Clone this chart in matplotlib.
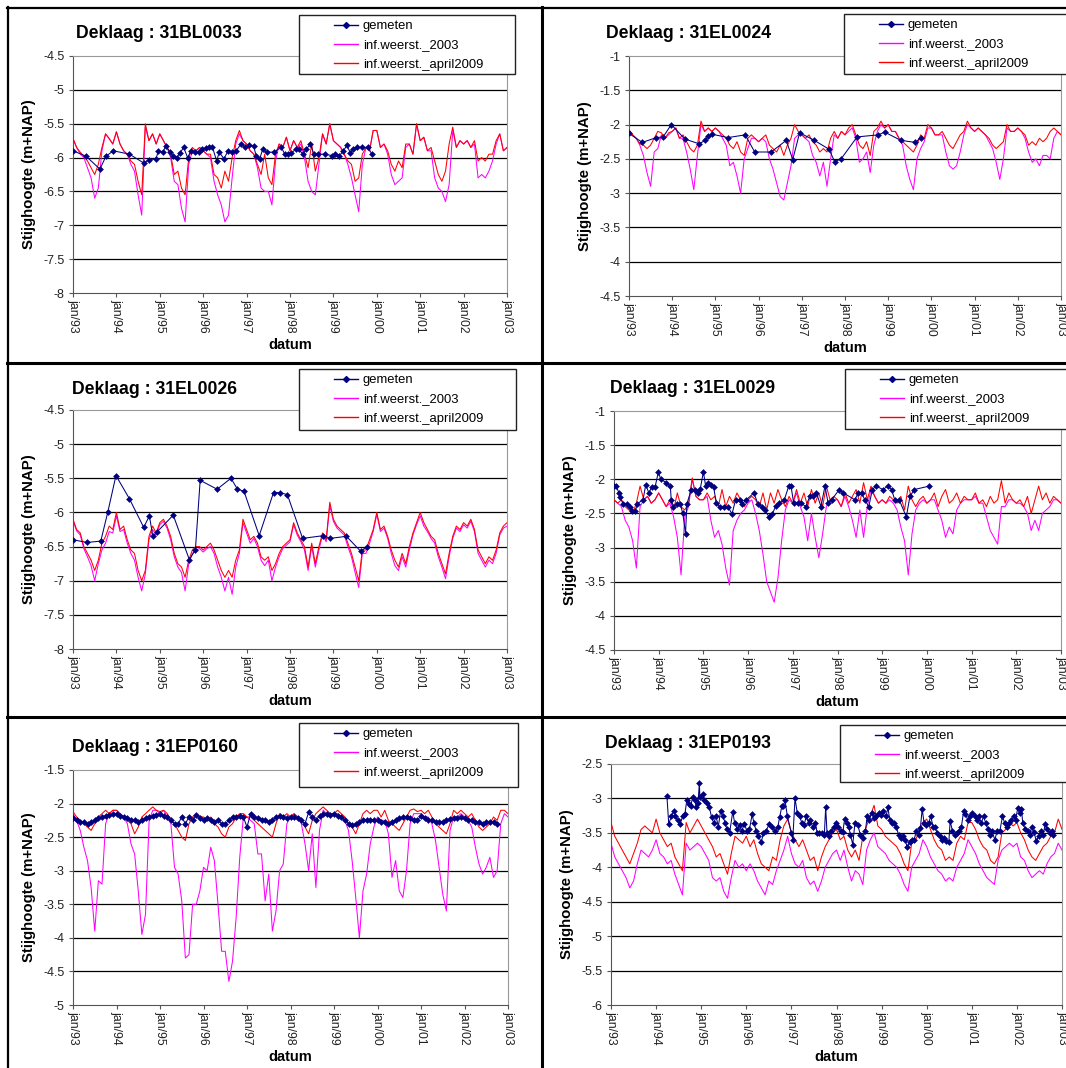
import numpy as np
import matplotlib
matplotlib.use('Agg')
import matplotlib.pyplot as plt
from matplotlib.lines import Line2D
from matplotlib.patches import Rectangle

plt.rcParams['font.family'] = ['Liberation Sans', 'DejaVu Sans']

# model output, one value per month from jan/93 to jan/03
maand = 1993 + np.arange(121) / 12.0
# measured heads of 31EP0160, one value per month from jan/93
maand_gem = 1993 + np.arange(118) / 12.0

jaren = list(range(1993, 2004))
jaar_labels = ['jan/%02d' % (j % 100) for j in jaren]
labels = ['gemeten', 'inf.weerst._2003', 'inf.weerst._april2009']

# ---- 31BL0033 ----
bl0033_2003 = [-5.72, -5.85, -5.95, -6.0, -6.15, -6.3, -6.6, -6.45, -5.9, -5.65, -5.72, -5.8,
               -5.62, -5.8, -5.9, -5.95, -6.1, -6.2, -6.55, -6.85, -5.55, -5.75, -5.65, -5.8,
               -5.65, -5.75, -5.85, -6.0, -6.35, -6.4, -6.75, -6.95, -6.1, -5.9, -5.9, -5.85,
               -5.9, -5.95, -6.0, -6.35, -6.55, -6.7, -6.95, -6.85, -6.3, -5.8, -5.65, -5.75,
               -5.8, -5.9, -5.95, -6.15, -6.45, -6.5, -6.5, -6.7, -6.05, -5.8, -5.85, -5.7,
               -5.9, -5.75, -5.85, -5.8, -6.0, -6.35, -6.5, -6.55, -6.1, -5.65, -5.8, -5.5,
               -5.75, -5.8, -5.85, -5.95, -6.1, -6.3, -6.55, -6.8, -6.1, -5.85, -5.9, -5.6,
               -5.6, -5.85, -5.8, -5.95, -6.25, -6.4, -6.35, -6.3, -5.85, -5.8, -5.95, -5.5,
               -5.75, -5.7, -5.9, -5.9, -6.3, -6.45, -6.5, -6.65, -6.4, -5.6, -5.85, -5.75,
               -5.8, -5.75, -5.85, -5.8, -6.3, -6.25, -6.3, -6.2, -6.05, -5.8, -5.65, -5.9, -5.85]
bl0033_2009 = [-5.72, -5.85, -5.92, -5.98, -6.05, -6.15, -6.25, -6.1, -5.85, -5.65, -5.72, -5.8,
               -5.62, -5.8, -5.9, -5.95, -6.05, -6.1, -6.35, -6.55, -5.5, -5.75, -5.65, -5.8,
               -5.65, -5.75, -5.85, -5.95, -6.25, -6.2, -6.45, -6.55, -6.0, -5.85, -5.9, -5.85,
               -5.9, -5.95, -5.95, -6.25, -6.3, -6.45, -6.2, -6.35, -6.0, -5.75, -5.6, -5.75,
               -5.8, -5.9, -5.95, -6.1, -6.25, -5.95, -6.3, -6.4, -5.95, -5.8, -5.85, -5.7,
               -5.9, -5.75, -5.85, -5.75, -5.95, -6.15, -5.8, -6.2, -6.0, -5.65, -5.8, -5.5,
               -5.75, -5.8, -5.85, -5.95, -6.05, -6.1, -6.35, -6.3, -5.95, -5.85, -5.9, -5.6,
               -5.6, -5.85, -5.8, -5.9, -6.1, -6.2, -6.05, -6.15, -5.8, -5.8, -5.95, -5.5,
               -5.75, -5.7, -5.9, -5.85, -6.05, -6.25, -6.35, -6.2, -5.8, -5.55, -5.85, -5.75,
               -5.8, -5.75, -5.85, -5.75, -6.05, -6.0, -6.05, -5.95, -5.95, -5.75, -5.65, -5.9, -5.85]
bl0033_t = [1993.00, 1993.30, 1993.62, 1993.76, 1993.93, 1994.30, 1994.63, 1994.76, 1994.91, 1994.97,
            1995.07, 1995.14, 1995.24, 1995.31, 1995.39, 1995.47, 1995.55, 1995.64, 1995.72, 1995.80,
            1995.90, 1995.97, 1996.06, 1996.14, 1996.21, 1996.31, 1996.37, 1996.48, 1996.57, 1996.67,
            1996.76, 1996.87, 1996.97, 1997.06, 1997.16, 1997.22, 1997.30, 1997.37, 1997.46, 1997.62,
            1997.80, 1997.88, 1997.95, 1998.03, 1998.13, 1998.20, 1998.30, 1998.37, 1998.47, 1998.55,
            1998.65, 1998.80, 1998.96, 1999.03, 1999.13, 1999.23, 1999.31, 1999.39, 1999.46, 1999.54,
            1999.66, 1999.79, 1999.89]
bl0033_gem = [-5.90, -5.98, -6.17, -5.98, -5.90, -5.95, -6.08, -6.03, -6.02, -5.90,
              -5.92, -5.83, -5.92, -5.98, -6.00, -5.93, -5.85, -6.00, -5.90, -5.92,
              -5.92, -5.87, -5.86, -5.85, -5.84, -6.05, -5.92, -6.02, -5.90, -5.92,
              -5.90, -5.80, -5.85, -5.82, -5.83, -5.97, -6.02, -5.88, -5.92, -5.92,
              -5.85, -5.95, -5.95, -5.93, -5.88, -5.88, -5.95, -5.88, -5.80, -5.95,
              -5.95, -5.95, -5.97, -5.95, -5.98, -5.90, -5.82, -5.93, -5.87, -5.85,
              -5.85, -5.85, -5.95]

# ---- 31EL0024 ----
el0024_2003 = [-2.08, -2.15, -2.2, -2.3, -2.45, -2.7, -2.9, -2.4, -2.35, -2.15, -2.2, -2.15,
               -2.1, -2.05, -2.2, -2.2, -2.4, -2.65, -2.95, -2.45, -2.0, -2.1, -2.05, -2.1,
               -2.05, -2.1, -2.2, -2.3, -2.6, -2.55, -2.75, -3.0, -2.5, -2.35, -2.2, -2.2,
               -2.25, -2.2, -2.25, -2.5, -2.65, -2.85, -3.05, -3.1, -2.85, -2.6, -2.2, -2.15,
               -2.15, -2.2, -2.25, -2.45, -2.55, -2.75, -2.55, -2.9, -2.5, -2.15, -2.2, -2.1,
               -2.15, -2.1, -2.05, -2.2, -2.55, -2.5, -2.4, -2.7, -2.3, -2.1, -2.0, -2.05,
               -2.0, -2.1, -2.1, -2.2, -2.3, -2.6, -2.8, -2.95, -2.5, -2.35, -2.25, -2.05,
               -2.05, -2.15, -2.15, -2.15, -2.4, -2.6, -2.65, -2.6, -2.4, -2.15, -2.0, -2.05,
               -2.1, -2.05, -2.1, -2.15, -2.25, -2.35, -2.55, -2.8, -2.5, -2.05, -2.1, -2.1,
               -2.05, -2.1, -2.2, -2.4, -2.55, -2.5, -2.6, -2.45, -2.45, -2.5, -2.2, -2.1, -2.15]
el0024_2009 = [-2.08, -2.15, -2.2, -2.28, -2.3, -2.35, -2.3, -2.2, -2.1, -2.12, -2.2, -2.12,
               -2.1, -2.05, -2.2, -2.15, -2.25, -2.35, -2.4, -2.3, -1.95, -2.1, -2.05, -2.1,
               -2.05, -2.1, -2.15, -2.2, -2.3, -2.35, -2.25, -2.4, -2.45, -2.2, -2.15, -2.2,
               -2.25, -2.2, -2.15, -2.3, -2.35, -2.4, -2.3, -2.45, -2.3, -2.2, -2.0, -2.1,
               -2.15, -2.2, -2.15, -2.25, -2.3, -2.4, -2.35, -2.4, -2.2, -2.1, -2.2, -2.1,
               -2.15, -2.05, -2.0, -2.15, -2.3, -2.35, -2.25, -2.45, -2.1, -2.05, -1.95, -2.05,
               -2.0, -2.1, -2.1, -2.2, -2.25, -2.3, -2.35, -2.4, -2.3, -2.15, -2.2, -2.0,
               -2.05, -2.15, -2.15, -2.1, -2.2, -2.3, -2.35, -2.25, -2.15, -2.1, -1.95, -2.05,
               -2.1, -2.05, -2.1, -2.15, -2.2, -2.3, -2.35, -2.3, -2.25, -2.0, -2.1, -2.1,
               -2.05, -2.1, -2.15, -2.3, -2.25, -2.3, -2.2, -2.25, -2.2, -2.1, -2.05, -2.1, -2.15]
el0024_t = [1993.00, 1993.31, 1993.63, 1993.79, 1993.98, 1994.29, 1994.62, 1994.77, 1994.83, 1994.92,
            1995.29, 1995.69, 1995.91, 1996.29, 1996.64, 1996.79, 1996.95, 1997.29, 1997.63, 1997.76,
            1997.91, 1998.28, 1998.77, 1998.92, 1999.29, 1999.63, 1999.75]
el0024_gem = [-2.13, -2.26, -2.19, -2.18, -2.00, -2.21, -2.28, -2.23, -2.17, -2.14,
              -2.19, -2.15, -2.40, -2.40, -2.23, -2.51, -2.12, -2.23, -2.36, -2.54,
              -2.50, -2.18, -2.15, -2.11, -2.23, -2.26, -2.19]

# ---- 31EL0026 ----
el0026_2003 = [-6.12, -6.27, -6.33, -6.53, -6.65, -6.78, -7.0, -6.75, -6.55, -6.45, -6.28, -6.3,
               -6.05, -6.28, -6.25, -6.45, -6.6, -6.7, -6.95, -7.15, -6.9, -6.4, -6.25, -6.33,
               -6.18, -6.13, -6.23, -6.4, -6.65, -6.8, -6.88, -7.15, -6.75, -6.6, -6.55, -6.53,
               -6.58, -6.53, -6.5, -6.6, -6.8, -6.95, -7.15, -6.95, -7.2, -6.8, -6.6, -6.15,
               -6.3, -6.45, -6.38, -6.5, -6.7, -6.78, -6.7, -7.0, -6.8, -6.65, -6.53, -6.48,
               -6.43, -6.18, -6.33, -6.43, -6.55, -6.85, -6.5, -6.8, -6.55, -6.33, -6.43, -5.9,
               -6.13, -6.23, -6.28, -6.33, -6.5, -6.65, -6.88, -7.1, -6.6, -6.6, -6.45, -6.28,
               -6.03, -6.28, -6.23, -6.38, -6.6, -6.78, -6.85, -6.65, -6.8, -6.55, -6.33, -6.18,
               -6.05, -6.2, -6.28, -6.38, -6.45, -6.65, -6.8, -6.97, -6.65, -6.38, -6.23, -6.28,
               -6.18, -6.23, -6.13, -6.28, -6.6, -6.7, -6.8, -6.7, -6.75, -6.6, -6.33, -6.23, -6.2]
el0026_2009 = [-6.1, -6.25, -6.3, -6.5, -6.6, -6.7, -6.85, -6.7, -6.45, -6.35, -6.2, -6.25,
               -6.0, -6.25, -6.2, -6.4, -6.55, -6.6, -6.85, -7.0, -6.85, -6.35, -6.2, -6.3,
               -6.15, -6.1, -6.2, -6.35, -6.6, -6.75, -6.8, -6.95, -6.7, -6.55, -6.5, -6.5,
               -6.55, -6.5, -6.45, -6.55, -6.7, -6.85, -6.95, -6.85, -6.95, -6.7, -6.55, -6.1,
               -6.25, -6.4, -6.35, -6.45, -6.65, -6.7, -6.65, -6.85, -6.75, -6.6, -6.5, -6.45,
               -6.4, -6.15, -6.3, -6.4, -6.5, -6.8, -6.45, -6.75, -6.5, -6.3, -6.4, -5.85,
               -6.1, -6.2, -6.25, -6.3, -6.45, -6.6, -6.8, -7.0, -6.55, -6.55, -6.4, -6.25,
               -6.0, -6.25, -6.2, -6.35, -6.55, -6.7, -6.8, -6.6, -6.75, -6.5, -6.3, -6.15,
               -6.0, -6.15, -6.25, -6.35, -6.4, -6.6, -6.75, -6.9, -6.6, -6.35, -6.2, -6.25,
               -6.15, -6.2, -6.1, -6.25, -6.55, -6.65, -6.75, -6.65, -6.7, -6.55, -6.3, -6.2, -6.15]
el0026_t = [1993.00, 1993.32, 1993.64, 1993.80, 1993.99, 1994.30, 1994.63, 1994.76, 1994.84, 1994.93,
            1995.31, 1995.68, 1995.82, 1995.93, 1996.32, 1996.64, 1996.79, 1996.94, 1997.29, 1997.62,
            1997.77, 1997.94, 1998.29, 1998.77, 1998.93, 1999.30, 1999.63, 1999.77]
el0026_gem = [-6.40, -6.44, -6.42, -6.00, -5.46, -5.80, -6.22, -6.05, -6.35, -6.29,
              -6.04, -6.69, -6.55, -5.53, -5.66, -5.50, -5.66, -5.69, -6.34, -5.71,
              -5.71, -5.74, -6.38, -6.34, -6.38, -6.35, -6.57, -6.50]

# ---- 31EL0029 ----
el0029_2003 = [-2.3, -2.35, -2.4, -2.6, -2.7, -2.9, -3.3, -2.4, -2.3, -2.25, -2.35, -2.3,
               -2.2, -2.3, -2.4, -2.35, -2.55, -2.85, -3.4, -2.55, -2.4, -2.0, -2.25, -2.3,
               -2.3, -2.25, -2.6, -2.85, -2.75, -2.95, -3.3, -3.55, -2.75, -2.6, -2.5, -2.45,
               -2.35, -2.3, -2.5, -2.75, -3.1, -3.5, -3.65, -3.8, -3.45, -2.9, -2.45, -2.3,
               -2.35, -2.2, -2.4, -2.55, -2.9, -2.5, -2.85, -3.15, -2.8, -2.4, -2.3, -2.3,
               -2.3, -2.4, -2.25, -2.4, -2.6, -2.85, -2.45, -2.85, -2.4, -2.15, -2.25, -2.35,
               -2.3, -2.35, -2.3, -2.35, -2.45, -2.7, -2.9, -3.4, -2.8, -2.45, -2.35, -2.3,
               -2.35, -2.3, -2.3, -2.45, -2.6, -2.85, -2.7, -2.8, -2.45, -2.35, -2.3, -2.3,
               -2.3, -2.25, -2.35, -2.35, -2.55, -2.75, -2.85, -2.95, -2.4, -2.4, -2.3, -2.3,
               -2.35, -2.35, -2.4, -2.5, -2.75, -2.6, -2.75, -2.5, -2.45, -2.4, -2.3, -2.3, -2.35]
el0029_2009 = [-2.3, -2.35, -2.3, -2.4, -2.45, -2.5, -2.35, -2.1, -2.3, -2.25, -2.35, -2.3,
               -2.2, -2.3, -2.4, -2.3, -2.45, -2.2, -2.4, -2.45, -2.35, -1.98, -2.25, -2.3,
               -2.3, -2.2, -2.3, -2.25, -2.4, -2.15, -2.4, -2.25, -2.35, -2.2, -2.3, -2.4,
               -2.3, -2.25, -2.3, -2.4, -2.2, -2.45, -2.2, -2.35, -2.15, -2.3, -2.4, -2.25,
               -2.35, -2.15, -2.35, -2.2, -2.4, -2.15, -2.35, -2.2, -2.4, -2.1, -2.3, -2.25,
               -2.3, -2.4, -2.2, -2.35, -2.25, -2.15, -2.35, -2.05, -2.3, -2.1, -2.25, -2.35,
               -2.3, -2.35, -2.25, -2.3, -2.35, -2.25, -2.45, -2.1, -2.3, -2.4, -2.3, -2.25,
               -2.35, -2.3, -2.2, -2.4, -2.25, -2.15, -2.35, -2.3, -2.2, -2.35, -2.25, -2.3,
               -2.3, -2.2, -2.35, -2.3, -2.4, -2.25, -2.35, -2.3, -2.02, -2.35, -2.2, -2.3,
               -2.35, -2.3, -2.4, -2.25, -2.5, -2.3, -2.1, -2.3, -2.2, -2.35, -2.25, -2.3, -2.35]
el0029_t = [1993.00, 1993.05, 1993.11, 1993.14, 1993.20, 1993.28, 1993.35, 1993.41, 1993.48, 1993.52,
            1993.65, 1993.71, 1993.78, 1993.84, 1993.92, 1993.99, 1994.05, 1994.17, 1994.26, 1994.28,
            1994.33, 1994.40, 1994.48, 1994.54, 1994.60, 1994.63, 1994.73, 1994.81, 1994.87, 1994.93,
            1995.00, 1995.05, 1995.11, 1995.18, 1995.23, 1995.29, 1995.37, 1995.46, 1995.55, 1995.64,
            1995.72, 1995.81, 1995.87, 1995.96, 1996.13, 1996.22, 1996.31, 1996.37, 1996.47, 1996.54,
            1996.62, 1996.69, 1996.81, 1996.91, 1996.96, 1997.02, 1997.12, 1997.19, 1997.29, 1997.38,
            1997.46, 1997.53, 1997.63, 1997.72, 1997.79, 1997.87, 1998.04, 1998.13, 1998.39, 1998.46,
            1998.54, 1998.61, 1998.70, 1998.78, 1998.86, 1999.02, 1999.12, 1999.21, 1999.28, 1999.38,
            1999.54, 1999.62, 1999.72, 2000.05]
el0029_gem = [-2.10, -2.10, -2.20, -2.26, -2.36, -2.36, -2.40, -2.46, -2.46, -2.36,
              -2.30, -2.08, -2.20, -2.12, -2.11, -1.90, -2.00, -2.05, -2.10, -2.30,
              -2.40, -2.36, -2.36, -2.50, -2.80, -2.36, -2.15, -2.15, -2.20, -2.14,
              -1.89, -2.10, -2.05, -2.09, -2.12, -2.35, -2.40, -2.40, -2.40, -2.51,
              -2.30, -2.30, -2.36, -2.30, -2.20, -2.36, -2.40, -2.45, -2.55, -2.51,
              -2.39, -2.35, -2.30, -2.10, -2.10, -2.35, -2.35, -2.35, -2.40, -2.25,
              -2.25, -2.20, -2.40, -2.10, -2.35, -2.30, -2.15, -2.20, -2.30, -2.20,
              -2.20, -2.30, -2.40, -2.15, -2.10, -2.15, -2.10, -2.15, -2.30, -2.30,
              -2.55, -2.25, -2.15, -2.10]

# ---- 31EP0160 ----
ep0160_2003 = [-2.15, -2.25, -2.4, -2.65, -2.85, -3.25, -3.9, -3.15, -3.2, -2.3, -2.15, -2.1,
               -2.1, -2.15, -2.2, -2.3, -2.6, -2.75, -3.3, -3.95, -3.65, -2.25, -2.1, -2.1,
               -2.15, -2.1, -2.2, -2.3, -2.95, -3.05, -3.45, -4.3, -4.25, -3.5, -3.5, -3.3,
               -2.95, -3.0, -2.65, -2.85, -3.5, -4.2, -4.2, -4.65, -4.35, -3.7, -2.8, -2.2,
               -2.2, -2.25, -2.3, -2.75, -2.75, -3.45, -3.05, -3.9, -3.6, -3.0, -2.9, -2.3,
               -2.2, -2.15, -2.2, -2.3, -2.6, -3.0, -2.45, -3.25, -2.4, -2.1, -2.15, -2.2,
               -2.15, -2.15, -2.2, -2.25, -2.4, -2.85, -3.4, -4.0, -3.3, -3.05, -2.6, -2.35,
               -2.2, -2.25, -2.25, -2.45, -3.1, -2.85, -3.3, -3.4, -3.0, -2.3, -2.15, -2.15,
               -2.15, -2.2, -2.2, -2.3, -2.55, -2.95, -3.35, -3.6, -2.4, -2.2, -2.2, -2.15,
               -2.2, -2.25, -2.35, -2.65, -2.9, -3.05, -2.95, -2.8, -3.1, -3.0, -2.3, -2.15, -2.2]
ep0160_2009 = [-2.12, -2.2, -2.25, -2.3, -2.35, -2.4, -2.3, -2.2, -2.15, -2.1, -2.15, -2.1,
               -2.1, -2.15, -2.2, -2.25, -2.3, -2.45, -2.35, -2.2, -2.15, -2.1, -2.05, -2.1,
               -2.12, -2.1, -2.15, -2.25, -2.3, -2.4, -2.5, -2.55, -2.3, -2.2, -2.15, -2.2,
               -2.2, -2.25, -2.2, -2.3, -2.35, -2.45, -2.5, -2.35, -2.3, -2.2, -2.15, -2.15,
               -2.2, -2.2, -2.25, -2.3, -2.35, -2.4, -2.45, -2.5, -2.3, -2.15, -2.2, -2.15,
               -2.2, -2.15, -2.2, -2.25, -2.35, -2.45, -2.25, -2.15, -2.1, -2.05, -2.1, -2.15,
               -2.15, -2.1, -2.15, -2.2, -2.3, -2.35, -2.45, -2.3, -2.15, -2.1, -2.15, -2.1,
               -2.1, -2.2, -2.1, -2.25, -2.3, -2.35, -2.4, -2.3, -2.2, -2.1, -2.08, -2.12,
               -2.1, -2.15, -2.1, -2.2, -2.3, -2.35, -2.4, -2.45, -2.3, -2.1, -2.15, -2.1,
               -2.15, -2.2, -2.15, -2.25, -2.35, -2.4, -2.35, -2.3, -2.2, -2.25, -2.1, -2.1, -2.15]
ep0160_gem = [-2.22, -2.25, -2.27, -2.28, -2.30, -2.28, -2.25, -2.22, -2.20, -2.18, -2.17, -2.15,
              -2.15, -2.18, -2.20, -2.22, -2.25, -2.25, -2.27, -2.25, -2.22, -2.20, -2.18, -2.17,
              -2.15, -2.18, -2.20, -2.25, -2.30, -2.30, -2.20, -2.30, -2.20, -2.25, -2.17, -2.22,
              -2.25, -2.22, -2.25, -2.28, -2.25, -2.30, -2.30, -2.25, -2.20, -2.20, -2.18, -2.20,
              -2.35, -2.15, -2.20, -2.22, -2.25, -2.25, -2.28, -2.25, -2.20, -2.18, -2.20, -2.22,
              -2.20, -2.20, -2.22, -2.25, -2.30, -2.13, -2.20, -2.25, -2.18, -2.15, -2.15, -2.17,
              -2.15, -2.18, -2.20, -2.25, -2.30, -2.32, -2.30, -2.28, -2.25, -2.25, -2.25, -2.25,
              -2.25, -2.27, -2.28, -2.30, -2.28, -2.25, -2.22, -2.20, -2.20, -2.22, -2.25, -2.25,
              -2.18, -2.22, -2.25, -2.25, -2.27, -2.28, -2.27, -2.25, -2.23, -2.22, -2.22, -2.20,
              -2.22, -2.25, -2.25, -2.27, -2.28, -2.30, -2.28, -2.27, -2.28, -2.30]

# ---- 31EP0193 ----
ep0193_2003 = [-3.65, -3.85, -3.95, -4.05, -4.15, -4.3, -4.2, -3.95, -3.75, -3.8, -3.85, -3.75,
               -3.6, -3.8, -3.85, -3.95, -3.9, -4.1, -4.25, -4.4, -3.65, -3.75, -3.7, -3.65,
               -3.7, -3.8, -3.9, -4.15, -4.2, -4.15, -4.35, -4.45, -4.15, -3.9, -4.0, -3.95,
               -4.05, -3.95, -4.05, -4.2, -4.3, -4.4, -4.2, -4.25, -4.05, -3.9, -3.75, -3.55,
               -3.8, -3.95, -4.0, -3.9, -4.15, -4.25, -4.2, -4.35, -4.2, -4.0, -3.9, -3.8,
               -3.75, -3.9, -3.75, -4.0, -4.2, -4.05, -4.1, -4.25, -3.75, -3.6, -3.5, -3.7,
               -3.75, -3.8, -3.9, -3.95, -4.0, -4.1, -4.25, -4.35, -4.0, -3.9, -3.8, -3.6,
               -3.7, -3.85, -3.95, -4.05, -4.1, -4.2, -4.15, -4.2, -4.0, -3.9, -3.8, -3.6,
               -3.7, -3.8, -3.95, -4.05, -4.15, -4.2, -4.25, -3.9, -3.75, -3.7, -3.65, -3.7,
               -3.65, -3.85, -3.9, -4.05, -4.15, -4.1, -4.05, -4.1, -3.95, -3.85, -3.8, -3.65, -3.75]
ep0193_2009 = [-3.35, -3.55, -3.65, -3.75, -3.85, -3.95, -3.8, -3.65, -3.45, -3.4, -3.45, -3.5,
               -3.3, -3.5, -3.6, -3.7, -3.65, -3.85, -3.95, -4.05, -3.35, -3.5, -3.4, -3.3,
               -3.4, -3.5, -3.6, -3.7, -3.85, -3.8, -3.95, -4.1, -3.8, -3.55, -3.6, -3.65,
               -3.55, -3.7, -3.6, -3.8, -3.95, -4.0, -4.05, -3.85, -3.9, -3.6, -3.4, -3.3,
               -3.5, -3.6, -3.7, -3.6, -3.75, -3.9, -3.85, -4.05, -3.85, -3.7, -3.6, -3.5,
               -3.45, -3.6, -3.55, -3.75, -3.85, -3.75, -3.9, -3.55, -3.4, -3.25, -3.1, -3.4,
               -3.45, -3.55, -3.6, -3.65, -3.7, -3.8, -3.95, -4.05, -3.65, -3.6, -3.5, -3.35,
               -3.3, -3.45, -3.6, -3.7, -3.75, -3.9, -3.85, -3.9, -3.65, -3.55, -3.6, -3.35,
               -3.35, -3.45, -3.6, -3.7, -3.75, -3.9, -3.95, -3.85, -3.5, -3.45, -3.35, -3.4,
               -3.35, -3.5, -3.6, -3.75, -3.85, -3.9, -3.8, -3.7, -3.65, -3.55, -3.5, -3.3, -3.45]
ep0193_t = [1994.24, 1994.28, 1994.34, 1994.39, 1994.43, 1994.48, 1994.53, 1994.59, 1994.64, 1994.68,
            1994.72, 1994.77, 1994.81, 1994.86, 1994.89, 1994.93, 1994.96, 1994.97, 1995.03, 1995.07,
            1995.12, 1995.18, 1995.23, 1995.28, 1995.33, 1995.38, 1995.43, 1995.48, 1995.53, 1995.57,
            1995.63, 1995.70, 1995.74, 1995.80, 1995.85, 1995.90, 1995.96, 1996.01, 1996.07, 1996.13,
            1996.17, 1996.22, 1996.27, 1996.33, 1996.38, 1996.44, 1996.51, 1996.57, 1996.64, 1996.70,
            1996.74, 1996.79, 1996.82, 1996.86, 1996.91, 1997.00, 1997.03, 1997.08, 1997.13, 1997.18,
            1997.23, 1997.28, 1997.33, 1997.38, 1997.42, 1997.47, 1997.53, 1997.57, 1997.62, 1997.68,
            1997.73, 1997.76, 1997.79, 1997.83, 1997.88, 1997.94, 1997.99, 1998.04, 1998.09, 1998.14,
            1998.18, 1998.23, 1998.27, 1998.31, 1998.36, 1998.41, 1998.47, 1998.53, 1998.58, 1998.64,
            1998.68, 1998.73, 1998.78, 1998.83, 1998.88, 1998.94, 1998.99, 1999.04, 1999.10, 1999.14,
            1999.18, 1999.23, 1999.27, 1999.32, 1999.38, 1999.42, 1999.47, 1999.52, 1999.57, 1999.62,
            1999.67, 1999.72, 1999.77, 1999.82, 1999.86, 1999.90, 1999.94, 1999.99, 2000.04, 2000.09,
            2000.14, 2000.19, 2000.23, 2000.29, 2000.34, 2000.38, 2000.43, 2000.49, 2000.52, 2000.57,
            2000.62, 2000.67, 2000.71, 2000.77, 2000.82, 2000.86, 2000.91, 2000.97, 2001.01, 2001.06,
            2001.11, 2001.16, 2001.21, 2001.26, 2001.31, 2001.36, 2001.41, 2001.45, 2001.51, 2001.56,
            2001.62, 2001.68, 2001.73, 2001.78, 2001.82, 2001.88, 2001.93, 2001.97, 2002.02, 2002.06,
            2002.10, 2002.13, 2002.19, 2002.24, 2002.28, 2002.33, 2002.38, 2002.43, 2002.48, 2002.53,
            2002.58, 2002.63, 2002.67, 2002.73, 2002.78, 2002.81]
ep0193_gem = [-2.97, -3.37, -3.26, -3.18, -3.26, -3.32, -3.37, -3.26, -3.22, -3.03,
              -3.08, -3.11, -2.98, -3.03, -3.13, -3.06, -2.77, -2.98, -2.94, -3.02,
              -3.06, -3.13, -3.27, -3.36, -3.26, -3.41, -3.18, -3.26, -3.35, -3.45,
              -3.50, -3.19, -3.35, -3.44, -3.39, -3.47, -3.37, -3.47, -3.45, -3.23,
              -3.36, -3.47, -3.54, -3.64, -3.50, -3.47, -3.37, -3.42, -3.47, -3.41,
              -3.27, -3.11, -3.11, -3.03, -3.26, -3.50, -3.60, -3.00, -3.21, -3.26,
              -3.35, -3.39, -3.26, -3.35, -3.31, -3.41, -3.35, -3.50, -3.50, -3.50,
              -3.53, -3.13, -3.50, -3.54, -3.48, -3.42, -3.36, -3.41, -3.48, -3.49,
              -3.30, -3.36, -3.41, -3.53, -3.67, -3.35, -3.38, -3.53, -3.57, -3.48,
              -3.26, -3.31, -3.21, -3.28, -3.26, -3.21, -3.24, -3.18, -3.26, -3.13,
              -3.31, -3.35, -3.35, -3.41, -3.53, -3.57, -3.54, -3.60, -3.71, -3.64,
              -3.60, -3.60, -3.48, -3.53, -3.43, -3.15, -3.35, -3.38, -3.36, -3.26,
              -3.41, -3.42, -3.50, -3.54, -3.60, -3.57, -3.62, -3.64, -3.33, -3.47,
              -3.53, -3.50, -3.47, -3.41, -3.18, -3.23, -3.31, -3.26, -3.21, -3.25,
              -3.31, -3.26, -3.36, -3.26, -3.36, -3.45, -3.53, -3.48, -3.60, -3.48,
              -3.48, -3.26, -3.36, -3.41, -3.36, -3.31, -3.26, -3.31, -3.14, -3.21,
              -3.15, -3.36, -3.45, -3.48, -3.53, -3.42, -3.49, -3.62, -3.55, -3.48,
              -3.53, -3.37, -3.45, -3.50, -3.48, -3.53]

W, H = 1066, 1068
fig = plt.figure(figsize=(W / 100, H / 100), dpi=100)


def fx(px):
    return px / W


def fy(py):
    return 1 - py / H


# layout in pixels: axes (l, t, r, b), legend box (l, t, r, b), title (x, y)
panels = [
    dict(name='31BL0033', m03=bl0033_2003, m09=bl0033_2009, t=bl0033_t, g=bl0033_gem,
         ylim=(-8, -4.5), ax=(73, 56, 507, 293), leg=(299, 15, 515, 74), title=(76, 34)),
    dict(name='31EL0024', m03=el0024_2003, m09=el0024_2009, t=el0024_t, g=el0024_gem,
         ylim=(-4.5, -1), ax=(629, 56, 1061, 296), leg=(844, 14, 1080, 74), title=(606, 34)),
    dict(name='31EL0026', m03=el0026_2003, m09=el0026_2009, t=el0026_t, g=el0026_gem,
         ylim=(-8, -4.5), ax=(73, 410, 507, 649), leg=(299, 369, 516, 430), title=(72, 390)),
    dict(name='31EL0029', m03=el0029_2003, m09=el0029_2009, t=el0029_t, g=el0029_gem,
         ylim=(-4.5, -1), ax=(614, 411, 1061, 650), leg=(845, 369, 1080, 429), title=(610, 389)),
    dict(name='31EP0160', m03=ep0160_2003, m09=ep0160_2009, t=maand_gem, g=ep0160_gem,
         ylim=(-5, -1.5), ax=(73, 770, 508, 1005), leg=(299, 723, 518, 787), title=(72, 748)),
    dict(name='31EP0193', m03=ep0193_2003, m09=ep0193_2009, t=ep0193_t, g=ep0193_gem,
         ylim=(-6, -2.5), ax=(611, 764, 1062, 1005), leg=(840, 725, 1080, 782), title=(605, 744)),
]

NAVY, MAG, RED = '#000080', '#FF00FF', '#FF0000'

for p in panels:
    l, t, r, b = p['ax']
    ax = fig.add_axes([fx(l), fy(b), (r - l) / W, (b - t) / H])
    ax.plot(maand, p['m03'], color=MAG, lw=0.75, zorder=2)
    ax.plot(maand, p['m09'], color=RED, lw=0.75, zorder=3)
    ax.plot(p['t'], p['g'], color=NAVY, lw=0.75, marker='D', ms=3.0, mew=0.4,
            mfc=NAVY, mec=NAVY, zorder=4)

    lo, hi = p['ylim']
    ax.set_xlim(1993, 2003)
    ax.set_ylim(lo, hi)
    yt = np.arange(lo, hi + 0.01, 0.5)
    ax.set_yticks(yt)
    ax.set_yticklabels(['%g' % v for v in yt])
    for v in yt[1:-1]:
        ax.axhline(v, color='black', lw=0.9, zorder=1)
    ax.set_xticks(jaren)
    ax.set_xticklabels(jaar_labels, rotation=-90)
    ax.tick_params(axis='y', direction='out', length=3, width=0.8, color='#555555',
                   labelsize=9, labelcolor='#222222', pad=3)
    ax.tick_params(axis='x', direction='out', length=3, width=0.8, color='#555555',
                   labelsize=8.8, labelcolor='#222222', pad=1)
    for s in ['top', 'right']:
        ax.spines[s].set_color('#999999')
        ax.spines[s].set_linewidth(0.8)
    for s in ['left', 'bottom']:
        ax.spines[s].set_color('#555555')
        ax.spines[s].set_linewidth(0.8)

    fig.text(fx(p['title'][0]), fy(p['title'][1]), 'Deklaag : ' + p['name'],
             fontsize=12.7, fontweight='bold', ha='left', va='center')
    fig.text(fx(l - 44), fy((t + b) / 2), 'Stijghoogte (m+NAP)', rotation=90,
             fontsize=10.8, fontweight='bold', ha='center', va='center')
    fig.text(fx((l + r) / 2), fy(b + 52), 'datum',
             fontsize=10.5, fontweight='bold', ha='center', va='center')

    bl, bt, br, bb = p['leg']
    fig.add_artist(Rectangle((fx(bl), fy(bb)), (br - bl) / W, (bb - bt) / H,
                             transform=fig.transFigure, facecolor='white',
                             edgecolor='#222222', lw=1.0, zorder=5))
    handles = [Line2D([], [], color=NAVY, lw=1.0, marker='D', ms=3.0),
               Line2D([], [], color=MAG, lw=1.0),
               Line2D([], [], color=RED, lw=1.0)]
    leg = fig.legend(handles, labels, loc='upper left',
                     bbox_to_anchor=(fx(bl + 35), fy(bt + 5)), frameon=False,
                     fontsize=9.4, handlelength=1.85, handletextpad=0.35,
                     labelspacing=0.55, borderpad=0, borderaxespad=0)
    leg.set_zorder(6)

# black frame and dividers between the six graphs
frame = [((8, 7), (8, 1068), 1.6), ((7, 8), (1066, 8), 1.6),
         ((542, 7), (542, 1068), 2.2), ((7, 362.5), (1066, 362.5), 2.2),
         ((7, 717), (1066, 717), 2.2)]
for (x0, y0), (x1, y1), w in frame:
    fig.add_artist(Line2D([fx(x0), fx(x1)], [fy(y0), fy(y1)], transform=fig.transFigure,
                          color='black', lw=w, zorder=7))

fig.savefig('out.png', dpi=100)
